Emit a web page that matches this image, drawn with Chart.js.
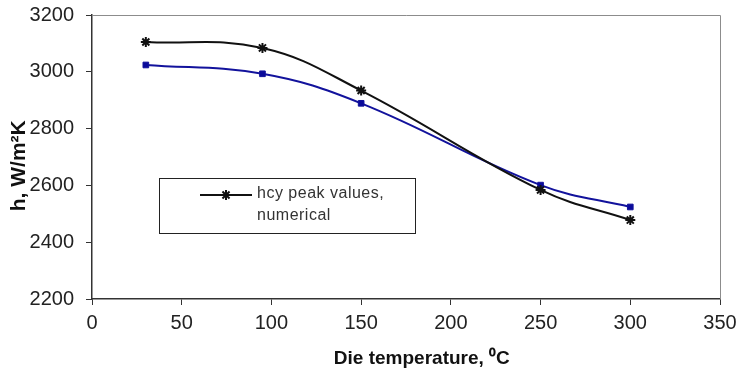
<!DOCTYPE html>
<html>
<head>
<meta charset="utf-8">
<script src="https://cdn.jsdelivr.net/npm/chart.js@4/dist/chart.umd.min.js"></script>
<style>
  html, body { margin: 0; padding: 0; background: #fff; }
  #wrap { width: 744px; height: 371px; }
</style>
</head>
<body>
<div id="wrap"><canvas id="hChart" width="744" height="371"></canvas></div>
<script>
// die temperatures (deg C)
const dieTemps = [30, 95, 150, 250, 300];
// heat transfer coefficient, numerical peak values (black, star)
const hcyNumerical = [3105, 3084, 2934, 2584, 2478];
// second series (blue, square) - not listed in the legend box
const hcySecond = [3024, 2993, 2889, 2601, 2524];

const xTicks = [0, 50, 100, 150, 200, 250, 300, 350];
const yTicks = [2200, 2400, 2600, 2800, 3000, 3200];

const toPoints = (ys) => dieTemps.map((t, i) => ({ x: t, y: ys[i] }));

// grey frame on top/right of the plot area, like the original
const plotFrame = {
  id: "plotFrame",
  beforeDatasetsDraw(chart) {
    const { ctx, chartArea: a } = chart;
    ctx.save();
    ctx.strokeStyle = "#8c8c8c";
    ctx.lineWidth = 1;
    ctx.beginPath();
    ctx.moveTo(a.left, a.top + 0.5);
    ctx.lineTo(a.right + 0.5, a.top + 0.5);
    ctx.lineTo(a.right + 0.5, a.bottom);
    ctx.stroke();
    ctx.restore();
  },
};

// boxed legend inside the plot (only the first series appears in it)
const boxLegend = {
  id: "boxLegend",
  afterDraw(chart) {
    const { ctx } = chart;
    const ds = chart.data.datasets[0];
    ctx.save();
    ctx.fillStyle = "#fff";
    ctx.fillRect(159, 178, 256, 55);
    ctx.strokeStyle = "#222";
    ctx.lineWidth = 1;
    ctx.strokeRect(159.5, 178.5, 256, 55);

    ctx.strokeStyle = ds.borderColor;
    ctx.lineWidth = 2;
    ctx.beginPath();
    ctx.moveTo(200, 195);
    ctx.lineTo(252, 195);
    ctx.stroke();
    Chart.helpers.drawPoint(ctx, {
      pointStyle: ds.pointStyle,
      radius: ds.pointRadius,
      borderWidth: ds.pointBorderWidth,
    }, 226, 195);

    ctx.fillStyle = "#333";
    ctx.font = "16px 'Liberation Sans', Arial, sans-serif";
    ctx.letterSpacing = "0.5px";
    ctx.textBaseline = "middle";
    ctx.textAlign = "left";
    ds.label.forEach((line, i) => ctx.fillText(line, 257, 194 + i * 22));
    ctx.restore();
  },
};

const ctx = document.getElementById("hChart").getContext("2d");

new Chart(ctx, {
  type: "line",
  data: {
    datasets: [
      {
        label: ["hcy peak values,", "numerical"],
        data: toPoints(hcyNumerical),
        borderColor: "#111",
        backgroundColor: "#111",
        borderWidth: 2,
        tension: 0.4,
        pointStyle: "star",
        pointRadius: 5,
        pointBorderWidth: 2,
        fill: false,
      },
      {
        label: "experimental",
        data: toPoints(hcySecond),
        borderColor: "#12129c",
        backgroundColor: "#0a0a9a",
        borderWidth: 2,
        tension: 0.4,
        pointStyle: "rect",
        pointRadius: 4,
        pointBorderWidth: 1,
        fill: false,
      },
    ],
  },
  options: {
    responsive: false,
    animation: false,
    layout: { padding: { top: 15, right: 24, left: 0, bottom: 0 } },
    plugins: {
      legend: { display: false },
      tooltip: { enabled: false },
    },
    scales: {
      x: {
        type: "linear",
        min: 0,
        max: 350,
        afterBuildTicks: (scale) => { scale.ticks = xTicks.map((v) => ({ value: v })); },
        afterFit: (scale) => { scale.height = 72; },
        border: { display: true, color: "#333", width: 1.5 },
        grid: { display: true, drawOnChartArea: false, drawTicks: true, tickLength: 6, color: "#333" },
        ticks: {
          color: "#222",
          padding: 6,
          maxRotation: 0,
          callback: (v) => String(v),
          font: { family: "'Liberation Sans', Arial, sans-serif", size: 20 },
        },
        title: {
          display: true,
          text: "      Die temperature, \u2070C",
          color: "#111",
          padding: { top: 0, bottom: 1 },
          font: { family: "'Liberation Sans', Arial, sans-serif", size: 19, weight: "bold" },
        },
      },
      y: {
        min: 2200,
        max: 3200,
        afterBuildTicks: (scale) => { scale.ticks = yTicks.map((v) => ({ value: v })); },
        afterFit: (scale) => {
          scale.width = 92;
          scale.paddingTop = 4;
          scale.paddingBottom = 4;
        },
        border: { display: true, color: "#333", width: 1.5 },
        grid: { display: true, drawOnChartArea: false, drawTicks: true, tickLength: 6, color: "#333" },
        ticks: {
          color: "#222",
          padding: 12,
          callback: (v) => String(v),
          font: { family: "'Liberation Sans', Arial, sans-serif", size: 20 },
        },
        title: {
          display: true,
          text: "h, W/m\u00b2K   ",
          color: "#111",
          padding: { top: 7, bottom: 0 },
          font: { family: "'Liberation Sans', Arial, sans-serif", size: 21, weight: "bold" },
        },
      },
    },
  },
  plugins: [plotFrame, boxLegend],
});
</script>
</body>
</html>
